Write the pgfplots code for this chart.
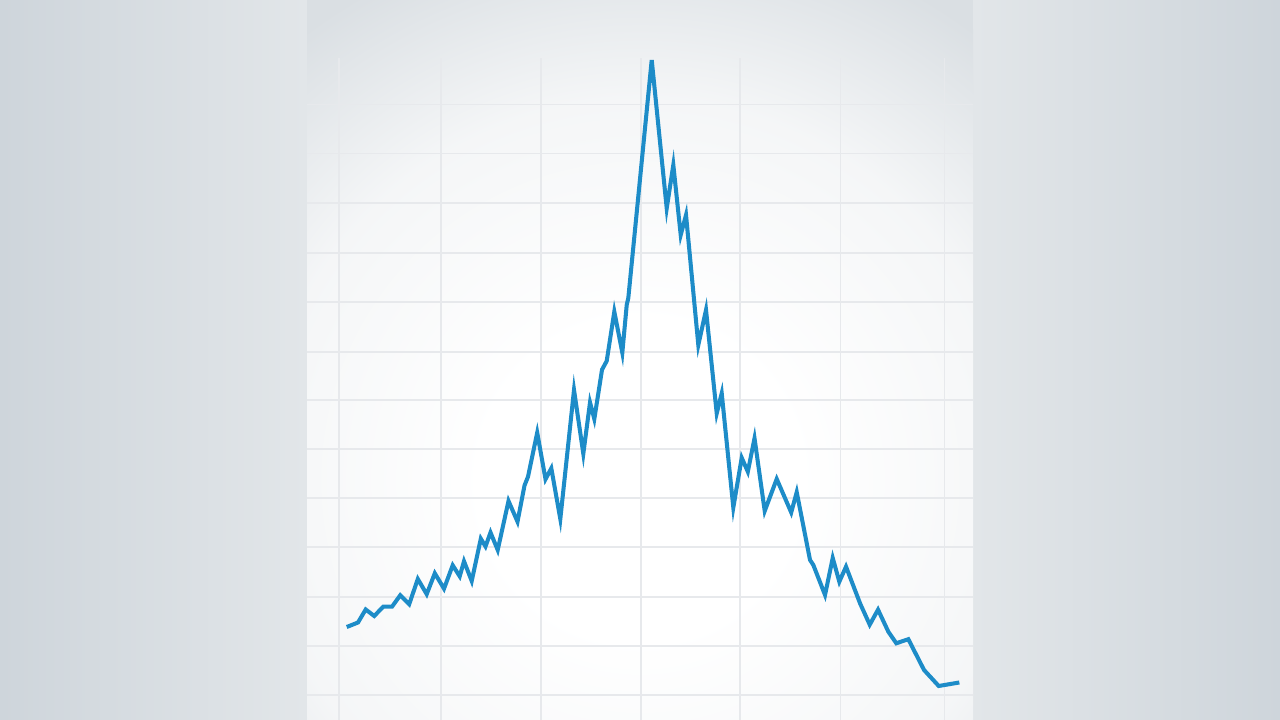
\documentclass[border=0pt]{standalone}
\usepackage{pgfplots}
\pgfplotsset{compat=1.18}
\definecolor{outerdark}{HTML}{CED5DB}
\definecolor{outerlight}{HTML}{E2E6E9}
\definecolor{panelgray}{HTML}{DADFE3}
\definecolor{gridc}{HTML}{E7E9EC}
\definecolor{lineblue}{HTML}{1D8CC8}
\pgfdeclareradialshading{panelglow}{\pgfpoint{0bp}{0bp}}{%
  color(0bp)=(white); color(7bp)=(white); color(17bp)=(white!72!panelgray);
  color(25bp)=(panelgray); color(50bp)=(panelgray)}
\begin{document}
\begin{tikzpicture}
\useasboundingbox (0,0) rectangle (12.8,7.2);
% background
\shade[left color=outerdark, right color=outerlight] (0,0) rectangle (3.07,7.2);
\shade[left color=outerlight, right color=outerdark] (9.73,0) rectangle (12.8,7.2);
\fill[panelgray] (3.07,0) rectangle (9.73,7.2);
\begin{scope}
\clip (3.07,0) rectangle (9.73,7.2);
\shade[shading=panelglow] (6.4,2.4) circle (5.6cm);
\end{scope}
\begin{axis}[
  at={(3.07cm,0cm)}, anchor=south west,
  scale only axis, width=6.66cm, height=6.62cm,
  xmin=307, xmax=973, ymin=0, ymax=662,
  xtick={339,441,541,641,740,840,944},
  ytick={25,74,123,173,222,271,320,368,418,467,517,566,615},
  xticklabels={}, yticklabels={},
  major tick length=0pt,
  grid=major,
  grid style={gridc, line width=0.3pt},
  axis line style={draw=none},
  clip=false,
]
\addplot[lineblue, line width=1.15pt, mark=none] coordinates {
(346.7,93) (358,97.5) (365.7,110.5) (374.2,104) (383.3,113.3) (392,113.3)
(400.3,124.8) (409.2,115.8) (417.8,141) (426.7,125.8) (434.8,146.7) (444,131.3)
(452.7,154.7) (459.7,143.7) (464,158.7) (471.7,139) (480.8,181.3) (485.5,173.5)
(490.5,187.5) (497.7,170) (508.5,219) (517.5,198.3) (524.5,234.5) (528,243.3)
(537.2,287.3) (545.5,240.8) (551.3,251.7) (560.3,201) (574,330) (583.3,266.3)
(590,317.5) (594.3,301) (602,350.3) (606.7,359) (614.3,408.3) (622.3,367.3)
(626.7,415) (628.3,422) (651.7,660) (666.7,511.7) (673.3,555) (680.7,485)
(686,505) (698.3,375) (706,410) (716.7,306.7) (721.7,326.7) (733.3,212.5)
(741.7,262.2) (747.8,248.3) (754.5,281.7) (764.7,209) (776.7,241) (791.2,207.5)
(796.7,227.8) (810,160) (813.3,155) (825,125) (832.7,162) (839.3,138.3)
(846,153.3) (860,116.7) (869.7,95.3) (878,110.3) (888.3,88.3) (896.3,76.7)
(908.3,80.8) (924,50) (938.7,34) (959.3,37.5)
};
\end{axis}
\end{tikzpicture}
\end{document}
